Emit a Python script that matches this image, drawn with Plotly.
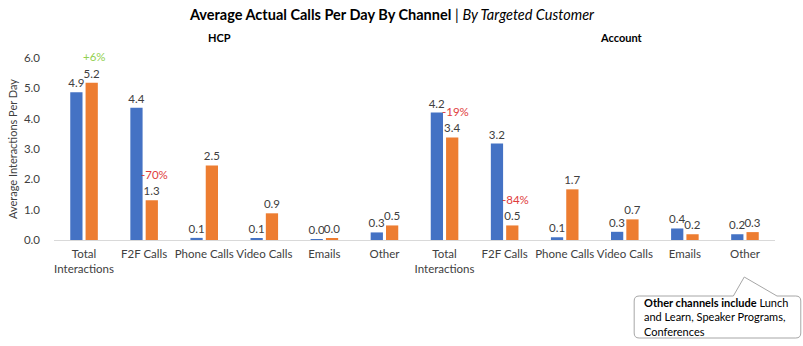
import plotly.graph_objects as go

# ---- data ----
segments = ["HCP", "Account"]
channels = ["Total<br>Interactions", "F2F Calls", "Phone Calls", "Video Calls", "Emails", "Other"]
hcp_blue = [4.87, 4.36, 0.07, 0.06, 0.004, 0.25]
hcp_orange = [5.18, 1.31, 2.46, 0.88, 0.04, 0.48]
acct_blue = [4.2, 3.18, 0.09, 0.27, 0.38, 0.19]
acct_orange = [3.38, 0.48, 1.67, 0.68, 0.19, 0.26]
pct_groups = [0, 1, 6, 7]
pct_labels = ["+6%", "-70%", "-19%", "-84%"]
pct_colors = ["#92D050", "#E03C3C", "#E03C3C", "#E03C3C"]

FONT = "Lato"
FS = 11.5
W, H = 803, 346
ML, MR, MT, MB = 48, 28, 58, 106
PW, PH = W - ML - MR, H - MT - MB

def px(x):
    return (x - ML) / PW

def py(y):
    return (H - MB - y) / PH

ticktext = channels * len(segments)
xpos = list(range(len(ticktext)))
blue = hcp_blue + acct_blue
orange = hcp_orange + acct_orange

fig = go.Figure()
for vals, color, name in [(blue, "#4472C4", "Blue"), (orange, "#ED7D31", "Orange")]:
    fig.add_trace(go.Bar(
        x=xpos, y=vals, name=name, marker_color=color, marker_line_width=0,
        texttemplate="%{y:.1f}", textposition="outside", constraintext="none",
        cliponaxis=False, textfont=dict(family=FONT, size=FS, color="#404040"),
    ))

bargap = 0.49
slot = (1 - bargap) / 2
for g, lab, col in zip(pct_groups, pct_labels, pct_colors):
    fig.add_annotation(
        x=g + slot / 2, y=orange[g], xref="x", yref="y", text=lab, showarrow=False,
        yanchor="middle", yshift=26, xshift=3,
        font=dict(family=FONT, size=FS, color=col),
    )

# segment labels
for lab, xp in zip(segments, [215, 620]):
    fig.add_annotation(x=px(xp), y=py(38), xref="paper", yref="paper", text=f"<b>{lab}</b>",
                       showarrow=False, xanchor="center", yanchor="middle",
                       font=dict(family=FONT, size=11, color="#000000"))

# callout box
L, R, T, B, r = 633, 801, 296, 338, 5
path = (f"M {px(L + r)},{py(T)} L {px(733)},{py(T)} L {px(744)},{py(277)} L {px(777)},{py(T)} "
        f"L {px(R - r)},{py(T)} Q {px(R)},{py(T)} {px(R)},{py(T + r)} "
        f"L {px(R)},{py(B - r)} Q {px(R)},{py(B)} {px(R - r)},{py(B)} "
        f"L {px(L + r)},{py(B)} Q {px(L)},{py(B)} {px(L)},{py(B - r)} "
        f"L {px(L)},{py(T + r)} Q {px(L)},{py(T)} {px(L + r)},{py(T)} Z")
fig.add_shape(type="path", path=path, xref="paper", yref="paper",
              line=dict(color="#A6A6A6", width=1), fillcolor="white")
fig.add_annotation(x=px(641), y=py(294), xref="paper", yref="paper", xanchor="left", yanchor="top",
                   align="left", showarrow=False,
                   text="<b>Other channels include</b> Lunch<br>and Learn, Speaker Programs,<br>Conferences",
                   font=dict(family=FONT, size=11, color="#000000"))

fig.update_layout(
    width=W, height=H, margin=dict(l=ML, r=MR, t=MT, b=MB),
    paper_bgcolor="white", plot_bgcolor="white", showlegend=False,
    barmode="group", bargap=bargap, bargroupgap=0.2,
    font=dict(family=FONT, size=FS, color="#404040"),
    title=dict(text="<b>Average Actual Calls Per Day By Channel</b> | <i>By Targeted Customer</i>",
               x=392 / W, xanchor="center", y=1 - 15 / H, yanchor="middle",
               xref="container", yref="container",
               font=dict(family=FONT, size=14.5, color="#000000")),
    xaxis=dict(tickmode="array", tickvals=xpos, ticktext=ticktext, range=[-0.5, len(xpos) - 0.5],
               tickangle=0, showline=True, linecolor="#D9D9D9", linewidth=1, ticks="", showgrid=False,
               ticklabelstandoff=3, tickfont=dict(family=FONT, size=FS, color="#404040")),
    yaxis=dict(range=[0, 6], tickvals=[0, 1, 2, 3, 4, 5, 6], tickformat=".1f", showgrid=False,
               zeroline=False, showline=False, ticks="", ticklabelstandoff=13,
               tickfont=dict(family=FONT, size=FS, color="#404040"),
               title=dict(text="Average Interactions Per Day", standoff=4,
                          font=dict(family=FONT, size=11, color="#404040"))),
)

fig.write_html("out.html")
